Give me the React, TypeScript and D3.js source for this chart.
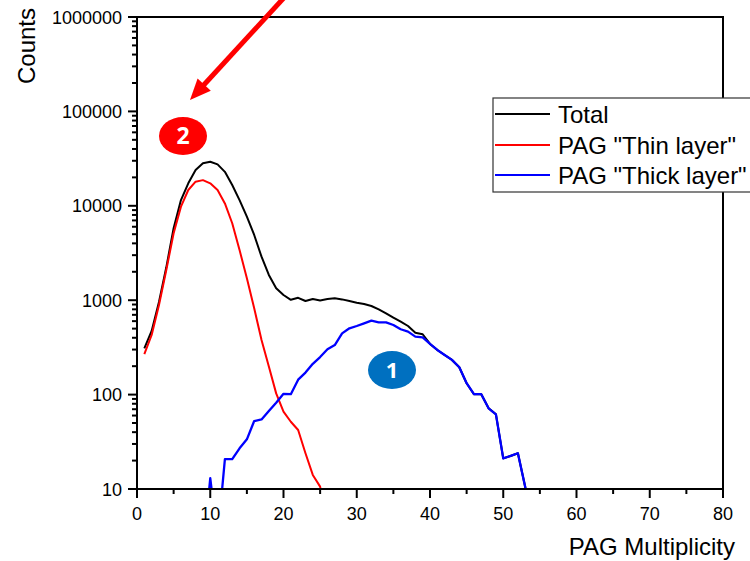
import React from "react";
import * as d3 from "d3";

// PAG multiplicity distribution (counts per multiplicity)
const totalMult = d3.range(1, 55);
const totalCounts = [
  309, 472, 957, 2230, 5780, 11500, 17300, 23900, 28200, 29300,
  27500, 22900, 16600, 11500, 7680, 4910, 2890, 1850, 1340, 1135,
  1010, 1060, 980, 1030, 995, 1030, 1050, 1020, 980, 942,
  912, 868, 800, 726, 653, 592, 533, 453, 436, 344,
  297, 263, 233, 195, 132, 101, 101, 71.6, 61.8, 21.1,
  22.4, 23.9, 10.5, 3,
];

const thinMult = d3.range(1, 27);
const thinCounts = [
  269, 428, 889, 2090, 5120, 9800, 14700, 18000, 18700, 17300,
  14700, 10600, 6530, 3400, 1710, 820, 379, 198, 103, 65.9,
  51.6, 42.2, 23.9, 14.1, 10.6, 4,
];

const thickMult = d3.range(9, 55);
const thickCounts = [
  2, 13, 3, 20.7, 20.7, 27, 33.6, 52.5, 54.5, 67,
  82, 102, 101, 144, 171, 212, 250, 302, 335, 445,
  504, 533, 569, 607, 583, 583, 546, 492, 465, 411,
  404, 344, 297, 263, 233, 195, 132, 101, 101, 71.6,
  61.8, 21.1, 22.4, 23.9, 10.5, 3,
];

const xTicks = d3.range(0, 81, 10);
const xMinorTicks = d3.range(5, 80, 10);
const yTicks = [10, 100, 1000, 10000, 100000, 1000000];
const yTickLabels = ["10", "100", "1000", "10000", "100000", "1000000"];

const seriesNames = ["Total", 'PAG "Thin layer"', 'PAG "Thick layer"'];
const seriesColors = ["#000000", "#ff0000", "#0000ff"];

const W = 750;
const H = 561;
const plot = { left: 137, right: 723, top: 17, bottom: 489 };
const FONT = "'Liberation Sans', Arial, sans-serif";

export default function App() {
  const x = d3.scaleLinear().domain([0, 80]).range([plot.left, plot.right]);
  const y = d3.scaleLog().domain([10, 1000000]).range([plot.bottom, plot.top]);

  const line = d3
    .line<[number, number]>()
    .x((d) => x(d[0]))
    .y((d) => y(d[1]));

  const series = [
    d3.zip(totalMult, totalCounts) as [number, number][],
    d3.zip(thinMult, thinCounts) as [number, number][],
    d3.zip(thickMult, thickCounts) as [number, number][],
  ];

  const yMinor: number[] = [];
  for (let p = 1; p < 6; p++) {
    for (let k = 2; k <= 9; k++) yMinor.push(k * Math.pow(10, p));
  }

  // annotation arrow geometry
  const tip = [190, 100];
  const tail = [292, -11];
  const dx = tip[0] - tail[0];
  const dy = tip[1] - tail[1];
  const len = Math.hypot(dx, dy);
  const ux = dx / len;
  const uy = dy / len;
  const headLen = 21;
  const headHalf = 9;
  const base = [tip[0] - ux * headLen, tip[1] - uy * headLen];
  const head = [
    tip,
    [base[0] - uy * headHalf, base[1] + ux * headHalf],
    [base[0] + uy * headHalf, base[1] - ux * headHalf],
  ];

  const legendRows = [114, 145, 175];

  return (
    <svg
      width={W}
      height={H}
      style={{ position: "absolute", left: 0, top: 0, background: "#fff" }}
      fontFamily={FONT}
    >
      <defs>
        <clipPath id="plotClip">
          <rect
            x={plot.left}
            y={plot.top}
            width={plot.right - plot.left}
            height={plot.bottom - plot.top}
          />
        </clipPath>
      </defs>
      <rect width={W} height={H} fill="#fff" />

      {/* data lines */}
      <g clipPath="url(#plotClip)" fill="none" strokeLinejoin="round">
        {series.map((s, i) => (
          <path
            key={i}
            d={line(s) || ""}
            stroke={seriesColors[i]}
            strokeWidth={i === 2 ? 2.3 : 2}
          />
        ))}
      </g>

      {/* frame */}
      <rect
        x={plot.left}
        y={plot.top}
        width={plot.right - plot.left}
        height={plot.bottom - plot.top}
        fill="none"
        stroke="#000"
        strokeWidth={2}
      />

      {/* x axis ticks */}
      <g stroke="#000" strokeWidth={2}>
        {xTicks.map((t) => (
          <line key={t} x1={x(t)} x2={x(t)} y1={plot.bottom} y2={plot.bottom + 9} />
        ))}
        {xMinorTicks.map((t) => (
          <line key={t} x1={x(t)} x2={x(t)} y1={plot.bottom} y2={plot.bottom + 5} />
        ))}
      </g>
      <g fontSize={18} textAnchor="middle" fill="#000">
        {xTicks.map((t) => (
          <text key={t} x={x(t)} y={520}>
            {t}
          </text>
        ))}
      </g>

      {/* y axis ticks */}
      <g stroke="#000" strokeWidth={2}>
        {yTicks.map((t) => (
          <line key={t} x1={plot.left - 9} x2={plot.left} y1={y(t)} y2={y(t)} />
        ))}
        {yMinor.map((t) => (
          <line key={t} x1={plot.left - 5} x2={plot.left} y1={y(t)} y2={y(t)} />
        ))}
      </g>
      <g fontSize={18} textAnchor="end" fill="#000">
        {yTicks.map((t, i) => (
          <text key={t} x={122} y={y(t) + 6.5}>
            {yTickLabels[i]}
          </text>
        ))}
      </g>

      {/* axis titles */}
      <text x={735} y={555} fontSize={24} textAnchor="end" fill="#000">
        PAG Multiplicity
      </text>
      <text
        transform="translate(35,46) rotate(-90)"
        fontSize={24}
        textAnchor="middle"
        fill="#000"
      >
        Counts
      </text>

      {/* legend */}
      <rect x={493} y={98} width={280} height={94} fill="#fff" stroke="#333" strokeWidth={1.2} />
      {seriesNames.map((name, i) => (
        <g key={name}>
          <line
            x1={495}
            x2={550}
            y1={legendRows[i]}
            y2={legendRows[i]}
            stroke={seriesColors[i]}
            strokeWidth={2}
          />
          <text x={558} y={legendRows[i] + 9} fontSize={24} fill="#000">
            {name}
          </text>
        </g>
      ))}

      {/* numbered markers */}
      <ellipse cx={183} cy={136} rx={24} ry={19} fill="#ff0000" />
      <text
        x={183}
        y={144}
        fontSize={23}
        fontWeight="bold"
        textAnchor="middle"
        fill="#fff"
        fontFamily="'Open Sans', sans-serif"
      >
        2
      </text>
      <ellipse cx={392} cy={370} rx={24} ry={19} fill="#0070c0" />
      <text
        x={392}
        y={378}
        fontSize={22}
        fontWeight="bold"
        textAnchor="middle"
        fill="#fff"
        fontFamily="'Open Sans', sans-serif"
      >
        1
      </text>

      {/* arrow */}
      <line
        x1={tail[0]}
        y1={tail[1]}
        x2={base[0] + ux * 2}
        y2={base[1] + uy * 2}
        stroke="#ff0000"
        strokeWidth={5}
      />
      <polygon points={head.map((p) => p.join(",")).join(" ")} fill="#ff0000" />
    </svg>
  );
}
